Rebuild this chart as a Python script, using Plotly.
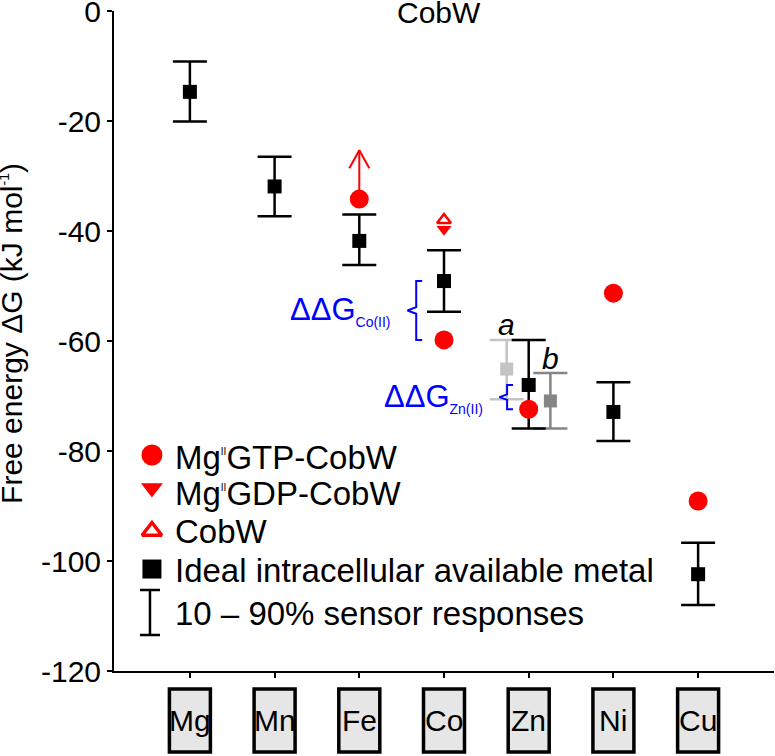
import plotly.graph_objects as go

# ---------------- data ----------------
metals = ["Mg", "Mn", "Fe", "Co", "Zn", "Ni", "Cu"]
ideal_values = [-14.7, -31.9, -41.8, -49.1, -68.0, -72.9, -102.4]
response_10 = [-9.2, -26.5, -37.0, -43.5, -59.8, -67.5, -96.7]
response_90 = [-20.1, -37.3, -46.2, -54.7, -75.9, -78.2, -108.0]

gtp_metals = ["Fe", "Co", "Zn", "Ni", "Cu"]
gtp_values = [-34.2, -59.8, -72.4, -51.3, -89.1]
fe_lower_limit_tip = -25.3

gdp_metals = ["Co"]
gdp_values = [-39.7]
apo_metals = ["Co"]
apo_values = [-38.0]

zn_a = {"value": -65.1, "top": -59.8, "bottom": -70.6}
zn_b = {"value": -70.9, "top": -65.8, "bottom": -75.9}

ytick_vals = [0, -20, -40, -60, -80, -100, -120]
ytick_text = ["0", "-20", "-40", "-60", "-80", "-100", "-120"]

legend_labels = [
    'Mg<sup><span style="font-size:10px">II</span></sup>GTP-CobW',
    'Mg<sup><span style="font-size:10px">II</span></sup>GDP-CobW',
    "CobW",
    "Ideal intracellular available metal",
    "10 \u2013 90% sensor responses",
]

# ---------------- style ----------------
FONT = "Liberation Sans, Arial, sans-serif"
RED = "#ff0000"
BLUE = "#0000ff"
LIGHT_GREY = "#c4c4c4"
DARK_GREY = "#858585"
idx = {m: i for i, m in enumerate(metals)}

fig = go.Figure()


def bar_trace(x, val, top, bottom, color, size):
    return go.Scatter(
        x=x, y=val, mode="markers",
        marker=dict(symbol="square", size=size, color=color),
        error_y=dict(type="data", symmetric=False,
                     array=[t - v for t, v in zip(top, val)],
                     arrayminus=[v - b for v, b in zip(val, bottom)],
                     color=color, thickness=2.5, width=17),
        showlegend=False, cliponaxis=False)


# Zn variant a (light grey), behind
fig.add_trace(bar_trace([idx["Zn"] - 0.26], [zn_a["value"]], [zn_a["top"]],
                        [zn_a["bottom"]], LIGHT_GREY, 13))
# Zn variant b (dark grey)
fig.add_trace(bar_trace([idx["Zn"] + 0.256], [zn_b["value"]], [zn_b["top"]],
                        [zn_b["bottom"]], DARK_GREY, 13))
# ideal values with sensor response range
fig.add_trace(bar_trace(list(range(len(metals))), ideal_values, response_10,
                        response_90, "black", 14))

# Fe lower-limit arrow
fx = idx["Fe"]
fe_gtp = gtp_values[gtp_metals.index("Fe")]
hw, hh = 0.118, 3.3
fig.add_trace(go.Scatter(
    x=[fx, fx, None, fx - hw, fx, fx + hw],
    y=[fe_gtp, fe_lower_limit_tip, None, fe_lower_limit_tip - hh,
       fe_lower_limit_tip, fe_lower_limit_tip - hh],
    mode="lines", line=dict(color=RED, width=2), showlegend=False,
    cliponaxis=False))

# Mg-GTP CobW
fig.add_trace(go.Scatter(x=[idx[m] for m in gtp_metals], y=gtp_values,
                         mode="markers", marker=dict(symbol="circle", size=19, color=RED),
                         showlegend=False, cliponaxis=False))
# Mg-GDP CobW
fig.add_trace(go.Scatter(x=[idx[m] for m in gdp_metals], y=gdp_values,
                         mode="markers",
                         marker=dict(symbol="triangle-down", size=13, color=RED),
                         showlegend=False, cliponaxis=False))
# apo CobW
fig.add_trace(go.Scatter(x=[idx[m] for m in apo_metals], y=apo_values,
                         mode="markers",
                         marker=dict(symbol="triangle-up-open", size=12, color=RED,
                                     line=dict(width=2.5, color=RED)),
                         showlegend=False, cliponaxis=False))


# ΔΔG braces
def brace(metal, offset, point, notch):
    i = idx[metal]
    top = ideal_values[i]
    bottom = gtp_values[gtp_metals.index(metal)]
    xb = i - offset
    mid = (top + bottom) / 2
    tick = 0.07
    fig.add_trace(go.Scatter(
        x=[xb + tick, xb, xb, xb - point, xb, xb, xb + tick],
        y=[top, top, mid + notch, mid, mid - notch, bottom, bottom],
        mode="lines", line=dict(color=BLUE, width=2), showlegend=False,
        cliponaxis=False))
    return xb - point, mid


annotations = []
for metal, off, pt, nt, lab in [("Co", 0.328, 0.103, 0.6, "Co(II)"),
                                ("Zn", 0.255, 0.09, 0.5, "Zn(II)")]:
    bx, by = brace(metal, off, pt, nt)
    annotations.append(dict(
        x=bx, y=by, xref="x", yref="y", xanchor="right", yanchor="middle",
        xshift=-14, yshift=-1, showarrow=False,
        text='\u0394\u0394G<sub><span style="font-size:14px">' + lab + "</span></sub>",
        font=dict(family=FONT, size=31, color=BLUE)))

# a / b labels
annotations.append(dict(x=idx["Zn"] - 0.26, y=zn_a["top"], xref="x", yref="y",
                        yanchor="bottom", yshift=-3, showarrow=False, text="<i>a</i>",
                        font=dict(family=FONT, size=30, color="black")))
annotations.append(dict(x=idx["Zn"] + 0.256, y=zn_b["top"], xref="x", yref="y",
                        yanchor="bottom", yshift=-4, showarrow=False, text="<i>b</i>",
                        font=dict(family=FONT, size=30, color="black")))

# title
annotations.append(dict(x=0.493, y=0.998, xref="paper", yref="paper",
                        xanchor="center", yanchor="middle", showarrow=False,
                        text="CobW", font=dict(family=FONT, size=30, color="black")))

# y-axis title
annotations.append(dict(x=-0.1563, y=0.512, xref="paper", yref="paper",
                        xanchor="center", yanchor="middle", textangle=-90,
                        showarrow=False,
                        text='Free energy \u0394G (kJ mol<sup><span style="font-size:14px">-1</span></sup>)',
                        font=dict(family=FONT, size=30, color="black")))

# category boxes below the axis
shapes = []
box_half = 0.242
for i, m in enumerate(metals):
    shapes.append(dict(type="rect", xref="x", yref="paper",
                       x0=i - box_half, x1=i + box_half, y0=-0.0273, y1=-0.1227,
                       line=dict(color="black", width=3.5), fillcolor="#e6e6e6",
                       layer="above"))
    annotations.append(dict(x=i, y=-0.075, xref="x", yref="paper",
                            xanchor="center", yanchor="middle", showarrow=False,
                            text=m, font=dict(family=FONT, size=30, color="black")))

# ---------------- manual legend (on overlay axes 0..1) ----------------
LX = 0.0575
leg_rows = [0.3273, 0.2773, 0.2121, 0.1545]
leg_text_rows = [0.3235, 0.2682, 0.2121, 0.1530, 0.0864]
fig.add_trace(go.Scatter(x=[LX], y=[leg_rows[0]], xaxis="x2", yaxis="y2",
                         mode="markers", marker=dict(symbol="circle", size=21, color=RED),
                         showlegend=False, cliponaxis=False, hoverinfo="skip"))
fig.add_trace(go.Scatter(x=[LX], y=[leg_rows[1]], xaxis="x2", yaxis="y2",
                         mode="markers", marker=dict(symbol="triangle-down", size=19, color=RED),
                         showlegend=False, cliponaxis=False, hoverinfo="skip"))
fig.add_trace(go.Scatter(x=[LX], y=[leg_rows[2]], xaxis="x2", yaxis="y2",
                         mode="markers",
                         marker=dict(symbol="triangle-up-open", size=17, color=RED,
                                     line=dict(width=3.5, color=RED)),
                         showlegend=False, cliponaxis=False, hoverinfo="skip"))
fig.add_trace(go.Scatter(x=[LX], y=[leg_rows[3]], xaxis="x2", yaxis="y2",
                         mode="markers", marker=dict(symbol="square", size=19, color="black"),
                         showlegend=False, cliponaxis=False, hoverinfo="skip"))
fig.add_trace(go.Scatter(x=[0.0545], y=[0.0886], xaxis="x2", yaxis="y2",
                         mode="markers", marker=dict(size=1, color="rgba(0,0,0,0)"),
                         error_y=dict(type="constant", value=0.0341, color="black",
                                      thickness=2.5, width=10),
                         showlegend=False, cliponaxis=False, hoverinfo="skip"))
for lab, ty in zip(legend_labels, leg_text_rows):
    annotations.append(dict(x=0.0953, y=ty, xref="paper", yref="paper",
                            xanchor="left", yanchor="middle", xshift=-4, showarrow=False,
                            text=lab, font=dict(family=FONT, size=33, color="black")))

fig.update_layout(
    width=775, height=756,
    margin=dict(l=114, r=1, t=11, b=85, autoexpand=False),
    paper_bgcolor="white", plot_bgcolor="white",
    font=dict(family=FONT, size=30, color="black"),
    showlegend=False,
    xaxis=dict(range=[-0.896, 6.896], tickvals=list(range(len(metals))),
               showticklabels=False, ticks="outside", ticklen=5, tickwidth=2,
               tickcolor="black", showline=True, linewidth=2, linecolor="black",
               showgrid=False, zeroline=False, fixedrange=True, automargin=False),
    yaxis=dict(range=[-120, 0.0001], tickvals=ytick_vals, ticktext=ytick_text,
               ticks="outside", ticklen=5, tickwidth=2, tickcolor="black",
               tickfont=dict(family=FONT, size=30), ticklabeloverflow="allow",
               showline=True, linewidth=2, linecolor="black", automargin=False,
               showgrid=False, zeroline=False, fixedrange=True),
    xaxis2=dict(overlaying="x", anchor="y2", range=[0, 1], visible=False),
    yaxis2=dict(overlaying="y", anchor="x2", range=[0, 1], visible=False),
    annotations=annotations,
    shapes=shapes,
)

fig.write_html("out.html", config={"displayModeBar": False},
               post_script="document.body.style.margin='0';document.body.style.overflow='hidden';")
